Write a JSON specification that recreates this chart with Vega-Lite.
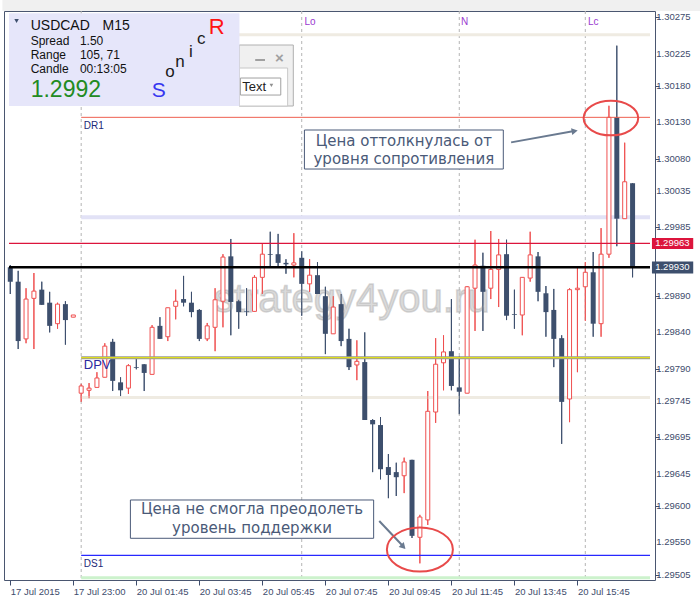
{
"$schema": "https://vega.github.io/schema/vega-lite/v6.json",
"width": 651, "height": 569,
"autosize": {"type": "none"},
"padding": {"left": 4, "top": 11, "right": 45, "bottom": 20},
"background": "white",
"config": {"view": {"stroke": "#4a5670", "strokeWidth": 1}, "font": "Liberation Sans"},
"datasets": {
"candles": [
{"k":0,"o":1.29930,"h":1.29933,"l":1.29893,"c":1.29910},
{"k":1,"o":1.29910,"h":1.29925,"l":1.29817,"c":1.29828},
{"k":2,"o":1.29831,"h":1.29901,"l":1.29825,"c":1.29886},
{"k":3,"o":1.29887,"h":1.29922,"l":1.29817,"c":1.29897},
{"k":4,"o":1.29899,"h":1.29910,"l":1.29878,"c":1.29878},
{"k":5,"o":1.29881,"h":1.29896,"l":1.29840,"c":1.29849},
{"k":6,"o":1.29852,"h":1.29881,"l":1.29845,"c":1.29879},
{"k":7,"o":1.29879,"h":1.29883,"l":1.29823,"c":1.29857},
{"k":8,"o":1.29861,"h":1.29864,"l":1.29861,"c":1.29864},
{"k":9,"o":1.29756,"h":1.29769,"l":1.29744,"c":1.29766},
{"k":10,"o":1.29760,"h":1.29770,"l":1.29749,"c":1.29763},
{"k":11,"o":1.29764,"h":1.29785,"l":1.29764,"c":1.29777},
{"k":12,"o":1.29778,"h":1.29825,"l":1.29778,"c":1.29821},
{"k":13,"o":1.29827,"h":1.29831,"l":1.29759,"c":1.29773},
{"k":14,"o":1.29771,"h":1.29778,"l":1.29752,"c":1.29760},
{"k":15,"o":1.29763,"h":1.29796,"l":1.29755,"c":1.29794},
{"k":16,"o":1.29792,"h":1.29806,"l":1.29789,"c":1.29791},
{"k":17,"o":1.29796,"h":1.29796,"l":1.29759,"c":1.29784},
{"k":18,"o":1.29782,"h":1.29850,"l":1.29782,"c":1.29847},
{"k":19,"o":1.29849,"h":1.29861,"l":1.29831,"c":1.29831},
{"k":20,"o":1.29834,"h":1.29874,"l":1.29828,"c":1.29874},
{"k":21,"o":1.29876,"h":1.29899,"l":1.29858,"c":1.29883},
{"k":22,"o":1.29886,"h":1.29918,"l":1.29876,"c":1.29881},
{"k":23,"o":1.29881,"h":1.29896,"l":1.29861,"c":1.29868},
{"k":24,"o":1.29871,"h":1.29872,"l":1.29828,"c":1.29831},
{"k":25,"o":1.29831,"h":1.29853,"l":1.29828,"c":1.29849},
{"k":26,"o":1.29847,"h":1.29901,"l":1.29814,"c":1.29885},
{"k":27,"o":1.29883,"h":1.29948,"l":1.29847,"c":1.29944},
{"k":28,"o":1.29945,"h":1.29969,"l":1.29836,"c":1.29882},
{"k":29,"o":1.29883,"h":1.29885,"l":1.29845,"c":1.29868},
{"k":30,"o":1.29869,"h":1.29901,"l":1.29863,"c":1.29868},
{"k":31,"o":1.29869,"h":1.29919,"l":1.29869,"c":1.29916},
{"k":32,"o":1.29916,"h":1.29963,"l":1.29893,"c":1.29948},
{"k":33,"o":1.29948,"h":1.29979,"l":1.29929,"c":1.29947},
{"k":34,"o":1.29948,"h":1.29976,"l":1.29929,"c":1.29936},
{"k":35,"o":1.29936,"h":1.29941,"l":1.29921,"c":1.29934},
{"k":36,"o":1.29933,"h":1.29977,"l":1.29916,"c":1.29936},
{"k":37,"o":1.29943,"h":1.29952,"l":1.29863,"c":1.29907},
{"k":38,"o":1.29907,"h":1.29941,"l":1.29896,"c":1.29919},
{"k":39,"o":1.29919,"h":1.29937,"l":1.29893,"c":1.29893},
{"k":40,"o":1.29890,"h":1.29903,"l":1.29810,"c":1.29838},
{"k":41,"o":1.29838,"h":1.29890,"l":1.29838,"c":1.29875},
{"k":42,"o":1.29879,"h":1.29893,"l":1.29821,"c":1.29828},
{"k":43,"o":1.29831,"h":1.29845,"l":1.29788,"c":1.29792},
{"k":44,"o":1.29795,"h":1.29829,"l":1.29774,"c":1.29800},
{"k":45,"o":1.29799,"h":1.29840,"l":1.29719,"c":1.29719},
{"k":46,"o":1.29719,"h":1.29720,"l":1.29647,"c":1.29713},
{"k":47,"o":1.29712,"h":1.29723,"l":1.29637,"c":1.29651},
{"k":48,"o":1.29654,"h":1.29672,"l":1.29611,"c":1.29643},
{"k":49,"o":1.29647,"h":1.29660,"l":1.29614,"c":1.29640},
{"k":50,"o":1.29642,"h":1.29667,"l":1.29618,"c":1.29661},
{"k":51,"o":1.29664,"h":1.29664,"l":1.29556,"c":1.29559},
{"k":52,"o":1.29557,"h":1.29588,"l":1.29521,"c":1.29585},
{"k":53,"o":1.29581,"h":1.29759,"l":1.29574,"c":1.29731},
{"k":54,"o":1.29730,"h":1.29832,"l":1.29715,"c":1.29796},
{"k":55,"o":1.29798,"h":1.29836,"l":1.29760,"c":1.29813},
{"k":56,"o":1.29814,"h":1.29886,"l":1.29760,"c":1.29766},
{"k":57,"o":1.29764,"h":1.29807,"l":1.29727,"c":1.29758},
{"k":58,"o":1.29756,"h":1.29904,"l":1.29756,"c":1.29903},
{"k":59,"o":1.29901,"h":1.29968,"l":1.29842,"c":1.29933},
{"k":60,"o":1.29932,"h":1.29950,"l":1.29842,"c":1.29896},
{"k":61,"o":1.29901,"h":1.29980,"l":1.29886,"c":1.29927},
{"k":62,"o":1.29927,"h":1.29969,"l":1.29875,"c":1.29947},
{"k":63,"o":1.29948,"h":1.29968,"l":1.29857,"c":1.29863},
{"k":64,"o":1.29865,"h":1.29899,"l":1.29845,"c":1.29864},
{"k":65,"o":1.29864,"h":1.29916,"l":1.29836,"c":1.29916},
{"k":66,"o":1.29915,"h":1.29979,"l":1.29910,"c":1.29947},
{"k":67,"o":1.29945,"h":1.29951,"l":1.29883,"c":1.29896},
{"k":68,"o":1.29894,"h":1.29904,"l":1.29834,"c":1.29868},
{"k":69,"o":1.29871,"h":1.29900,"l":1.29792,"c":1.29831},
{"k":70,"o":1.29832,"h":1.29836,"l":1.29686,"c":1.29744},
{"k":71,"o":1.29748,"h":1.29901,"l":1.29716,"c":1.29899},
{"k":72,"o":1.29899,"h":1.29930,"l":1.29785,"c":1.29901},
{"k":73,"o":1.29903,"h":1.29937,"l":1.29856,"c":1.29923},
{"k":74,"o":1.29923,"h":1.29951,"l":1.29834,"c":1.29852},
{"k":75,"o":1.29852,"h":1.29984,"l":1.29834,"c":1.29948},
{"k":76,"o":1.29948,"h":1.30153,"l":1.29943,"c":1.30137},
{"k":77,"o":1.30137,"h":1.30236,"l":1.29959,"c":1.29997},
{"k":78,"o":1.29997,"h":1.30102,"l":1.29997,"c":1.30048},
{"k":79,"o":1.30046,"h":1.30046,"l":1.29916,"c":1.29930}
],
"ylabels": [
{"p":1.30275,"t":"1.30275"},{"p":1.30225,"t":"1.30225"},{"p":1.3018,"t":"1.30180"},{"p":1.3013,"t":"1.30130"},{"p":1.3008,"t":"1.30080"},{"p":1.30035,"t":"1.30035"},{"p":1.29985,"t":"1.29985"},{"p":1.2989,"t":"1.29890"},{"p":1.2984,"t":"1.29840"},{"p":1.2979,"t":"1.29790"},{"p":1.29745,"t":"1.29745"},{"p":1.29695,"t":"1.29695"},{"p":1.29645,"t":"1.29645"},{"p":1.296,"t":"1.29600"},{"p":1.2955,"t":"1.29550"},{"p":1.29505,"t":"1.29505"}
]
},
"layer": [
{"data": {"name": "candles"},
 "mark": {"type": "rule", "strokeWidth": 1},
 "encoding": {
  "x": {"field": "k", "type": "quantitative", "scale": {"domain": [-0.1625, 81.2125], "nice": false, "zero": false},
   "axis": {"orient": "bottom", "title": null, "grid": false, "values": [0, 8, 16, 24, 32, 40, 48, 56, 64, 72],
    "labelExpr": "['17 Jul 2015','17 Jul 23:00','20 Jul 01:45','20 Jul 03:45','20 Jul 05:45','20 Jul 07:45','20 Jul 09:45','20 Jul 11:45','20 Jul 13:45','20 Jul 15:45'][round(datum.value/8)]",
    "labelAlign": "left", "labelFontSize": 9.5, "labelColor": "#3e4c6c", "tickColor": "#3e4c6c", "tickSize": 5, "labelPadding": 1, "domain": false, "labelFont": "Liberation Sans", "labelBound": false, "labelOverlap": false, "labelFlush": false}},
  "y": {"field": "l", "type": "quantitative", "scale": {"domain": [1.29498, 1.3028386], "nice": false, "zero": false},
   "axis": {"orient": "right", "title": null, "grid": false, "values": [1.30275, 1.30225, 1.3018, 1.3013, 1.3008, 1.30035, 1.29985, 1.29935, 1.2989, 1.2984, 1.2979, 1.29745, 1.29695, 1.29645, 1.296, 1.2955, 1.29505],
    "labels": false, "tickColor": "#3e4c6c", "tickSize": 4, "domain": false}},
  "y2": {"field": "h"},
  "color": {"condition": {"test": "datum.c >= datum.o", "value": "#ef5050"}, "value": "#3d4f6d"}}},
{"data": {"name": "ylabels"},
 "mark": {"type": "text", "align": "left", "baseline": "middle", "fontSize": 9.5, "fill": "#3e4c6c", "font": "Liberation Sans", "clip": false},
 "encoding": {"x": {"datum": 82.0, "type": "quantitative"}, "y": {"field": "p", "type": "quantitative"}, "text": {"field": "t"}}},
{"data": {"values": [{"k": -1, "k2": 90, "p": 1.3028386, "p2": 1.3032}]},
 "mark": {"type": "rect", "fill": "#f0f0f0", "clip": false},
 "encoding": {"x": {"field": "k", "type": "quantitative"}, "x2": {"field": "k2"},
  "y": {"field": "p", "type": "quantitative"}, "y2": {"field": "p2"}}},
{"data": {"values": [{"k": 9}, {"k": 37}, {"k": 57}, {"k": 73}]},
 "mark": {"type": "rule", "stroke": "#b4b4b4", "strokeDash": [3, 3], "strokeWidth": 1},
 "encoding": {"x": {"field": "k", "type": "quantitative"}}},
{"data": {"values": [{"k": 9, "k2": 81.2125, "p": 1.30251}, {"k": 9, "k2": 81.2125, "p": 1.2975}]},
 "mark": {"type": "rule", "stroke": "#efebe2", "strokeWidth": 3},
 "encoding": {"x": {"field": "k", "type": "quantitative"}, "x2": {"field": "k2"}, "y": {"field": "p", "type": "quantitative"}}},
{"data": {"values": [{"k": 9, "k2": 81.2125, "p": 1.29999}]},
 "mark": {"type": "rule", "stroke": "#e2e2f6", "strokeWidth": 4},
 "encoding": {"x": {"field": "k", "type": "quantitative"}, "x2": {"field": "k2"}, "y": {"field": "p", "type": "quantitative"}}},
{"data": {"values": [{"k": 9, "k2": 81.2125, "p": 1.29501}]},
 "mark": {"type": "rule", "stroke": "#ccf2cc", "strokeWidth": 3},
 "encoding": {"x": {"field": "k", "type": "quantitative"}, "x2": {"field": "k2"}, "y": {"field": "p", "type": "quantitative"}}},
{"data": {"values": [{"k": 43.34, "p": 1.298681, "t": "strategy4you.ru"}]},
 "mark": {"type": "text", "align": "center", "baseline": "alphabetic", "fontSize": 40, "fill": "#d4d4d4", "stroke": "#a0a0a0", "strokeWidth": 1.5, "strokeOpacity": 0.45, "opacity": 0.85, "font": "Liberation Sans"},
 "encoding": {"x": {"field": "k", "type": "quantitative"}, "y": {"field": "p", "type": "quantitative"}, "text": {"field": "t"}}},
{"data": {"name": "candles"},
 "mark": {"type": "rule", "strokeWidth": 1},
 "encoding": {
  "x": {"field": "k", "type": "quantitative"},
  "y": {"field": "l", "type": "quantitative"},
  "y2": {"field": "h"},
  "color": {"condition": {"test": "datum.c >= datum.o", "value": "#ef5050"}, "value": "#3d4f6d"}}},
{"data": {"name": "candles"},
 "mark": {"type": "bar"},
 "encoding": {
  "x": {"field": "k", "type": "quantitative"},
  "y": {"field": "o", "type": "quantitative"},
  "y2": {"field": "c"},
  "size": {"condition": {"test": "datum.c >= datum.o", "value": 4}, "value": 5},
  "fill": {"condition": {"test": "datum.c >= datum.o", "value": "#ffffff"}, "value": "#3d4f6d"},
  "stroke": {"condition": {"test": "datum.c >= datum.o", "value": "#ef5050"}, "value": "#3d4f6d"},
  "strokeWidth": {"condition": {"test": "datum.c >= datum.o", "value": 1}, "value": 0}}},
{"data": {"values": [{"k": 9, "k2": 81.2125, "p": 1.30137}]},
 "mark": {"type": "rule", "stroke": "#ee6050", "strokeWidth": 1},
 "encoding": {"x": {"field": "k", "type": "quantitative"}, "x2": {"field": "k2"}, "y": {"field": "p", "type": "quantitative"}}},
{"data": {"values": [{"k": 9, "k2": 81.2125, "p": 1.29805}]},
 "mark": {"type": "rule", "stroke": "#9a9a92", "strokeWidth": 3},
 "encoding": {"x": {"field": "k", "type": "quantitative"}, "x2": {"field": "k2"}, "y": {"field": "p", "type": "quantitative"}}},
{"data": {"values": [{"k": 9, "k2": 81.2125, "p": 1.29805}]},
 "mark": {"type": "rule", "stroke": "#f2f000", "strokeWidth": 1},
 "encoding": {"x": {"field": "k", "type": "quantitative"}, "x2": {"field": "k2"}, "y": {"field": "p", "type": "quantitative"}}},
{"data": {"values": [{"k": 9, "k2": 81.2125, "p": 1.29532}]},
 "mark": {"type": "rule", "stroke": "#2828ff", "strokeWidth": 1.2},
 "encoding": {"x": {"field": "k", "type": "quantitative"}, "x2": {"field": "k2"}, "y": {"field": "p", "type": "quantitative"}}},
{"data": {"values": [{"k": -0.1625, "k2": 81.2125, "p": 1.29963}]},
 "mark": {"type": "rule", "stroke": "#dc143c", "strokeWidth": 1.2},
 "encoding": {"x": {"field": "k", "type": "quantitative"}, "x2": {"field": "k2"}, "y": {"field": "p", "type": "quantitative"}}},
{"data": {"values": [{"k": -0.1625, "k2": 81.2125, "p": 1.2993}]},
 "mark": {"type": "rule", "stroke": "#000000", "strokeWidth": 2.5},
 "encoding": {"x": {"field": "k", "type": "quantitative"}, "x2": {"field": "k2"}, "y": {"field": "p", "type": "quantitative"}}},
{"data": {"values": [{"k": 9.34, "p": 1.30121, "t": "DR1"}, {"k": 9.34, "p": 1.295159, "t": "DS1"}]},
 "mark": {"type": "text", "align": "left", "baseline": "alphabetic", "fontSize": 10, "fill": "#1c2a78", "font": "Liberation Sans"},
 "encoding": {"x": {"field": "k", "type": "quantitative"}, "y": {"field": "p", "type": "quantitative"}, "text": {"field": "t"}}},
{"data": {"values": [{"k": 9.34, "p": 1.29789, "t": "DPV"}]},
 "mark": {"type": "text", "align": "left", "baseline": "alphabetic", "fontSize": 13, "fill": "#2a2aa0", "font": "Liberation Sans"},
 "encoding": {"x": {"field": "k", "type": "quantitative"}, "y": {"field": "p", "type": "quantitative"}, "text": {"field": "t"}}},
{"data": {"values": [{"k": 37.34, "p": 1.302645, "t": "Lo"}, {"k": 57.21, "p": 1.302645, "t": "N"}, {"k": 73.34, "p": 1.302645, "t": "Lc"}]},
 "mark": {"type": "text", "align": "left", "baseline": "alphabetic", "fontSize": 10, "fill": "#9a3ad0", "font": "Liberation Sans"},
 "encoding": {"x": {"field": "k", "type": "quantitative"}, "y": {"field": "p", "type": "quantitative"}, "text": {"field": "t"}}},
{"data": {"values": [{"k": 37.34, "k2": 62.59, "p": 1.301195, "p2": 1.300656}, {"k": 15.25, "k2": 46.13, "p": 1.296085, "p2": 1.295556}]},
 "mark": {"type": "rect", "fill": "#ffffff", "stroke": "#4a5a78", "strokeWidth": 1},
 "encoding": {"x": {"field": "k", "type": "quantitative"}, "x2": {"field": "k2"}, "y": {"field": "p", "type": "quantitative"}, "y2": {"field": "p2"}}},
{"data": {"values": [{"k": 49.96, "p": 1.300974, "t": "Цена оттолкнулась от"}, {"k": 49.96, "p": 1.30073, "t": "уровня сопротивления"}, {"k": 30.69, "p": 1.295892, "t": "Цена не смогла преодолеть"}, {"k": 30.69, "p": 1.295636, "t": "уровень поддержки"}]},
 "mark": {"type": "text", "align": "center", "baseline": "alphabetic", "fontSize": 15, "fill": "#4a5a78", "font": "DejaVu Sans"},
 "encoding": {"x": {"field": "k", "type": "quantitative"}, "y": {"field": "p", "type": "quantitative"}, "text": {"field": "t"}}},
{"data": {"values": [{"k": 63.58, "p": 1.301024, "k2": 71.59, "p2": 1.301181}, {"k": 46.84, "p": 1.295795, "k2": 49.84, "p2": 1.29545}]},
 "mark": {"type": "rule", "stroke": "#6a7a90", "strokeWidth": 2},
 "encoding": {"x": {"field": "k", "type": "quantitative"}, "x2": {"field": "k2"}, "y": {"field": "p", "type": "quantitative"}, "y2": {"field": "p2"}}},
{"data": {"values": [{"k": 71.65, "p": 1.30118, "a": -10}, {"k": 49.9, "p": 1.29544, "a": 46}]},
 "mark": {"type": "point", "shape": "triangle-right", "filled": true, "fill": "#6a7a90", "size": 50, "opacity": 1},
 "encoding": {"x": {"field": "k", "type": "quantitative"}, "y": {"field": "p", "type": "quantitative"},
  "angle": {"field": "a", "type": "quantitative", "scale": null}}},
{"data": {"values": [{"k": 76.25, "p": 1.30136}]},
 "mark": {"type": "point", "shape": "M-1,0A1,0.634,0,1,0,1,0A1,0.634,0,1,0,-1,0Z", "filled": false, "stroke": "#e84a4a", "strokeWidth": 2, "size": 2981, "opacity": 1},
 "encoding": {"x": {"field": "k", "type": "quantitative"}, "y": {"field": "p", "type": "quantitative"}}},
{"data": {"values": [{"k": 52.0, "p": 1.2954}]},
 "mark": {"type": "point", "shape": "M-1,0A1,0.667,0,1,0,1,0A1,0.667,0,1,0,-1,0Z", "filled": false, "stroke": "#e84a4a", "strokeWidth": 2, "size": 4356, "opacity": 1},
 "encoding": {"x": {"field": "k", "type": "quantitative"}, "y": {"field": "p", "type": "quantitative"}}},
{"data": {"values": [{"k": 29.05, "k2": 35.93, "p": 1.302369, "p2": 1.3015265}]},
 "mark": {"type": "rect", "fill": "#f0f0f0", "stroke": "#b0b0b0", "strokeWidth": 1},
 "encoding": {"x": {"field": "k", "type": "quantitative"}, "x2": {"field": "k2"}, "y": {"field": "p", "type": "quantitative"}, "y2": {"field": "p2"}}},
{"data": {"values": [{"k": 29.09, "k2": 35.21, "p": 1.302051, "p2": 1.3015265}]},
 "mark": {"type": "rect", "fill": "#ffffff", "stroke": "#c8c8c8", "strokeWidth": 1},
 "encoding": {"x": {"field": "k", "type": "quantitative"}, "x2": {"field": "k2"}, "y": {"field": "p", "type": "quantitative"}, "y2": {"field": "p2"}}},
{"data": {"values": [{"k": 29.21, "k2": 34.34, "p": 1.301913, "p2": 1.301678}]},
 "mark": {"type": "rect", "fill": "#ffffff", "stroke": "#a0a0a0", "strokeWidth": 1},
 "encoding": {"x": {"field": "k", "type": "quantitative"}, "x2": {"field": "k2"}, "y": {"field": "p", "type": "quantitative"}, "y2": {"field": "p2"}}},
{"data": {"values": [{"k": 29.46, "p": 1.301734, "t": "Text"}]},
 "mark": {"type": "text", "align": "left", "baseline": "alphabetic", "fontSize": 13, "fill": "#222222", "font": "Liberation Sans"},
 "encoding": {"x": {"field": "k", "type": "quantitative"}, "y": {"field": "p", "type": "quantitative"}, "text": {"field": "t"}}},
{"data": {"values": [{"k": 33.15, "p": 1.30181}]},
 "mark": {"type": "point", "shape": "triangle-down", "filled": true, "fill": "#909090", "size": 14, "opacity": 1},
 "encoding": {"x": {"field": "k", "type": "quantitative"}, "y": {"field": "p", "type": "quantitative"}}},
{"data": {"values": [{"k": 31.09, "k2": 32.34, "p": 1.302162}]},
 "mark": {"type": "rule", "stroke": "#a0a0a0", "strokeWidth": 2},
 "encoding": {"x": {"field": "k", "type": "quantitative"}, "x2": {"field": "k2"}, "y": {"field": "p", "type": "quantitative"}}},
{"data": {"values": [{"k": 34.15, "p": 1.302196, "t": "×"}]},
 "mark": {"type": "text", "align": "center", "baseline": "middle", "fontSize": 15, "fill": "#a0a0a0", "font": "Liberation Sans", "fontWeight": "bold"},
 "encoding": {"x": {"field": "k", "type": "quantitative"}, "y": {"field": "p", "type": "quantitative"}, "text": {"field": "t"}}},
{"data": {"values": [{"k": -0.1625, "k2": 29.09, "p": 1.302807, "p2": 1.3015265}]},
 "mark": {"type": "rect", "fill": "#e6e6fa"},
 "encoding": {"x": {"field": "k", "type": "quantitative"}, "x2": {"field": "k2"}, "y": {"field": "p", "type": "quantitative"}, "y2": {"field": "p2"}}},
{"data": {"values": [{"k": 0.8, "p": 1.3027}]},
 "mark": {"type": "point", "shape": "triangle-down", "filled": true, "fill": "#3d4f6d", "size": 20, "opacity": 1},
 "encoding": {"x": {"field": "k", "type": "quantitative"}, "y": {"field": "p", "type": "quantitative"}}},
{"data": {"values": [{"k": 2.59, "p": 1.302576, "t": "USDCAD"}, {"k": 11.71, "p": 1.302576, "t": "M15"}]},
 "mark": {"type": "text", "align": "left", "baseline": "alphabetic", "fontSize": 14, "fill": "#111111", "font": "Liberation Sans"},
 "encoding": {"x": {"field": "k", "type": "quantitative"}, "y": {"field": "p", "type": "quantitative"}, "text": {"field": "t"}}},
{"data": {"values": [{"k": 2.59, "p": 1.302369, "t": "Spread"}, {"k": 8.84, "p": 1.302369, "t": "1.50"}, {"k": 2.59, "p": 1.302176, "t": "Range"}, {"k": 8.84, "p": 1.302176, "t": "105, 71"}, {"k": 2.59, "p": 1.301978, "t": "Candle"}, {"k": 8.84, "p": 1.301978, "t": "00:13:05"}]},
 "mark": {"type": "text", "align": "left", "baseline": "alphabetic", "fontSize": 12, "fill": "#111111", "font": "Liberation Sans"},
 "encoding": {"x": {"field": "k", "type": "quantitative"}, "y": {"field": "p", "type": "quantitative"}, "text": {"field": "t"}}},
{"data": {"values": [{"k": 2.59, "p": 1.301655, "t": "1.2992"}]},
 "mark": {"type": "text", "align": "left", "baseline": "alphabetic", "fontSize": 23, "fill": "#228b22", "font": "Liberation Sans"},
 "encoding": {"x": {"field": "k", "type": "quantitative"}, "y": {"field": "p", "type": "quantitative"}, "text": {"field": "t"}}},
{"data": {"values": [{"k": 17.96, "p": 1.301655, "t": "S"}]},
 "mark": {"type": "text", "align": "left", "baseline": "alphabetic", "fontSize": 21, "fill": "#3535f0", "font": "Liberation Sans"},
 "encoding": {"x": {"field": "k", "type": "quantitative"}, "y": {"field": "p", "type": "quantitative"}, "text": {"field": "t"}}},
{"data": {"values": [{"k": 19.68, "p": 1.301923, "t": "o"}, {"k": 20.93, "p": 1.302069, "t": "n"}, {"k": 22.68, "p": 1.302207, "t": "i"}, {"k": 23.71, "p": 1.302379, "t": "c"}]},
 "mark": {"type": "text", "align": "left", "baseline": "alphabetic", "fontSize": 17, "fill": "#1a1a1a", "font": "Liberation Sans"},
 "encoding": {"x": {"field": "k", "type": "quantitative"}, "y": {"field": "p", "type": "quantitative"}, "text": {"field": "t"}}},
{"data": {"values": [{"k": 25.18, "p": 1.302521, "t": "R"}]},
 "mark": {"type": "text", "align": "left", "baseline": "alphabetic", "fontSize": 22, "fill": "#ff1414", "font": "Liberation Sans"},
 "encoding": {"x": {"field": "k", "type": "quantitative"}, "y": {"field": "p", "type": "quantitative"}, "text": {"field": "t"}}},
{"data": {"values": [{"k": 81.46, "k2": 86.7, "p": 1.299704, "p2": 1.299552}]},
 "mark": {"type": "rect", "fill": "#dc143c", "clip": false},
 "encoding": {"x": {"field": "k", "type": "quantitative"}, "x2": {"field": "k2"}, "y": {"field": "p", "type": "quantitative"}, "y2": {"field": "p2"}}},
{"data": {"values": [{"k": 81.46, "k2": 86.7, "p": 1.299379, "p2": 1.299213}]},
 "mark": {"type": "rect", "fill": "#3d4f6d", "clip": false},
 "encoding": {"x": {"field": "k", "type": "quantitative"}, "x2": {"field": "k2"}, "y": {"field": "p", "type": "quantitative"}, "y2": {"field": "p2"}}},
{"data": {"values": [{"k": 84.05, "p": 1.29963, "t": "1.29963"}, {"k": 84.05, "p": 1.2993, "t": "1.29930"}]},
 "mark": {"type": "text", "align": "center", "baseline": "middle", "fontSize": 9.5, "fill": "#ffffff", "font": "Liberation Sans", "clip": false},
 "encoding": {"x": {"field": "k", "type": "quantitative"}, "y": {"field": "p", "type": "quantitative"}, "text": {"field": "t"}}}
]
}
